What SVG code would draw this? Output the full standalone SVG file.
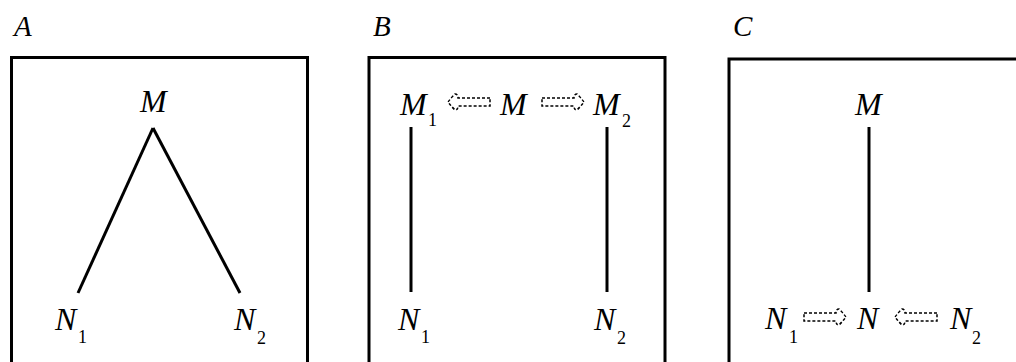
<svg xmlns="http://www.w3.org/2000/svg" width="1016" height="362" viewBox="0 0 1016 362">
<style>
text{font-family:"Liberation Serif","Times New Roman",serif;fill:#000}
.t{font-style:italic;font-size:32px}
.p{font-style:italic;font-size:29px}
.s{font-style:normal;font-size:18px}
.box{fill:none;stroke:#000;stroke-width:3}
.ln{stroke:#000;stroke-width:3;fill:none}
.da{fill:none;stroke:#000;stroke-width:1.5;stroke-dasharray:3 2}
</style>
<defs>
<path id="rarr" d="M0,-4 H32 Q32,-8 35,-8 Q39,-4 42,0 Q39,4 35,8 Q32,8 32,4 H0 Z"/>
</defs>
<rect fill="#fff" width="1016" height="362"/>
<g id="panels">
<rect class="box" x="11.5" y="57.5" width="296" height="330"/>
<rect class="box" x="369" y="57.5" width="296" height="330"/>
<rect class="box" x="729" y="59" width="320" height="330"/>
<text class="p" x="14" y="36">A</text>
<text class="p" x="373" y="36">B</text>
<text class="p" x="733" y="36">C</text>
</g>
<g id="connectors">
<line class="ln" x1="153" y1="128" x2="78" y2="293"/>
<line class="ln" x1="153" y1="128" x2="240" y2="293"/>
<line class="ln" x1="411" y1="127" x2="411" y2="292"/>
<line class="ln" x1="607" y1="127" x2="607" y2="292"/>
<line class="ln" x1="869" y1="127" x2="869" y2="292"/>
<use href="#rarr" class="da" transform="translate(490,102) scale(-1,1)"/>
<use href="#rarr" class="da" transform="translate(542,102)"/>
<use href="#rarr" class="da" transform="translate(804,317)"/>
<use href="#rarr" class="da" transform="translate(937,317) scale(-1,1)"/>
</g>
<g id="nodeA-M"><text class="t" x="140" y="112">M</text></g>
<g id="nodeA-N1"><text class="t" x="55" y="330">N</text><text class="s" x="78" y="343">1</text></g>
<g id="nodeA-N2"><text class="t" x="234" y="330">N</text><text class="s" x="257" y="344">2</text></g>
<g id="nodeB-M1"><text class="t" x="400" y="115">M</text><text class="s" x="428" y="126">1</text></g>
<g id="nodeB-M"><text class="t" x="500" y="115">M</text></g>
<g id="nodeB-M2"><text class="t" x="593" y="115">M</text><text class="s" x="622" y="127">2</text></g>
<g id="nodeB-N1"><text class="t" x="398" y="330">N</text><text class="s" x="421" y="343">1</text></g>
<g id="nodeB-N2"><text class="t" x="594" y="330">N</text><text class="s" x="617" y="344">2</text></g>
<g id="nodeC-M"><text class="t" x="855" y="115">M</text></g>
<g id="nodeC-N1"><text class="t" x="765" y="329">N</text><text class="s" x="789" y="343">1</text></g>
<g id="nodeC-N"><text class="t" x="857" y="329">N</text></g>
<g id="nodeC-N2"><text class="t" x="950" y="329">N</text><text class="s" x="972" y="344">2</text></g>
</svg>
